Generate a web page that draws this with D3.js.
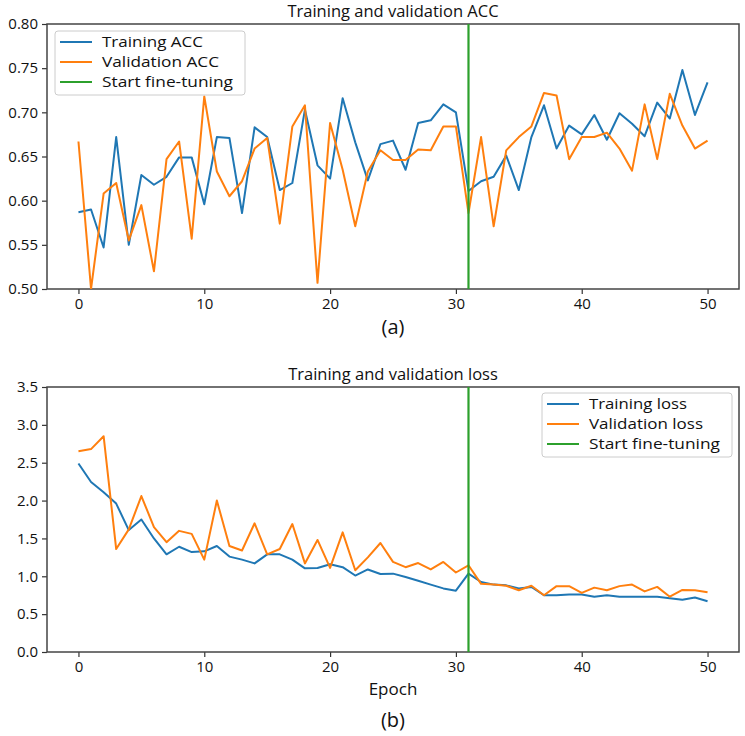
<!DOCTYPE html>
<html><head><meta charset="utf-8">
<script src="https://cdn.jsdelivr.net/npm/d3@7"></script>
<style>
body{margin:0;background:#fff;}
text{font-family:"Open Sans","DejaVu Sans",sans-serif;}
</style></head><body>
<svg id="chart" width="745" height="736"></svg>
<script>
const epochs = d3.range(0, 51);
const trainAcc = [0.587,0.590,0.547,0.672,0.550,0.629,0.618,0.627,0.649,0.649,0.596,0.672,0.671,0.586,0.683,0.672,0.612,0.620,0.703,0.640,0.625,0.716,0.666,0.623,0.664,0.668,0.635,0.688,0.691,0.709,0.700,0.611,0.622,0.627,0.651,0.612,0.672,0.708,0.659,0.685,0.675,0.697,0.669,0.699,0.687,0.673,0.711,0.693,0.748,0.697,0.734];
const valAcc = [0.667,0.500,0.608,0.620,0.555,0.595,0.520,0.647,0.667,0.557,0.718,0.633,0.605,0.622,0.659,0.671,0.574,0.684,0.708,0.507,0.688,0.635,0.571,0.633,0.657,0.646,0.646,0.658,0.657,0.684,0.684,0.586,0.672,0.571,0.657,0.672,0.684,0.722,0.719,0.647,0.672,0.672,0.677,0.659,0.634,0.709,0.647,0.721,0.685,0.659,0.668];
const trainLoss = [2.49,2.245,2.11,1.96,1.61,1.75,1.50,1.29,1.39,1.32,1.33,1.40,1.26,1.22,1.17,1.29,1.29,1.22,1.105,1.11,1.16,1.12,1.01,1.09,1.03,1.035,0.99,0.94,0.89,0.84,0.81,1.035,0.925,0.89,0.88,0.84,0.86,0.75,0.75,0.76,0.76,0.73,0.75,0.73,0.73,0.73,0.73,0.71,0.69,0.72,0.67];
const valLoss = [2.65,2.68,2.85,1.36,1.62,2.06,1.65,1.45,1.60,1.56,1.22,2.00,1.40,1.34,1.70,1.29,1.36,1.69,1.17,1.48,1.11,1.58,1.08,1.25,1.44,1.19,1.12,1.175,1.09,1.19,1.05,1.145,0.90,0.89,0.875,0.815,0.875,0.75,0.87,0.87,0.78,0.85,0.815,0.87,0.89,0.80,0.86,0.73,0.82,0.815,0.79];
const fineTuneEpoch = 31;
const xTicks = [0,10,20,30,40,50];
const accTicks = [0.50,0.55,0.60,0.65,0.70,0.75,0.80];
const lossTicks = [0.0,0.5,1.0,1.5,2.0,2.5,3.0,3.5];
const accLegend = ["Training ACC","Validation ACC","Start fine-tuning"];
const lossLegend = ["Training loss","Validation loss","Start fine-tuning"];
const colors = ["#1f77b4","#ff7f0e","#2ca02c"];

const svg = d3.select("#chart");
const L = 47, R = 739;
const x = d3.scaleLinear().domain([-2.5, 52.5]).range([L, R]);

function panel(cfg){
  const y = d3.scaleLinear().domain(cfg.yDomain).range([cfg.bottom, cfg.top]);
  const g = svg.append("g");
  g.append("text").attr("x", (L+R)/2).attr("y", cfg.top - 7).attr("text-anchor","middle")
    .attr("font-size", 16.5).attr("fill","#111").text(cfg.title);
  const xa = g.append("g").attr("transform", `translate(0,${cfg.bottom})`)
    .call(d3.axisBottom(x).tickValues(xTicks).tickFormat(d3.format("d")).tickSize(5).tickPadding(4));
  const ya = g.append("g").attr("transform", `translate(${L},0)`)
    .call(d3.axisLeft(y).tickValues(cfg.yTicks).tickFormat(cfg.fmt).tickSize(5).tickPadding(4));
  [xa, ya].forEach(a=>{
    a.select(".domain").remove();
    a.selectAll("line").attr("stroke","#333").attr("stroke-width",1.2);
    a.selectAll("text").attr("font-size",15).attr("fill","#111")
      .attr("font-family",'"Open Sans","DejaVu Sans",sans-serif');
  });
  g.append("rect").attr("x",L).attr("y",cfg.top).attr("width",R-L).attr("height",cfg.bottom-cfg.top)
    .attr("fill","none").attr("stroke","#444").attr("stroke-width",1.5);
  const clip = "clip" + cfg.id;
  svg.append("clipPath").attr("id",clip).append("rect").attr("x",L).attr("y",cfg.top).attr("width",R-L).attr("height",cfg.bottom-cfg.top);
  const plot = g.append("g").attr("clip-path",`url(#${clip})`);
  const line = d3.line().x((d,i)=>x(epochs[i])).y(d=>y(d));
  plot.append("path").datum(cfg.s1).attr("d",line).attr("fill","none").attr("stroke",colors[0]).attr("stroke-width",2).attr("stroke-linejoin","round");
  plot.append("path").datum(cfg.s2).attr("d",line).attr("fill","none").attr("stroke",colors[1]).attr("stroke-width",2).attr("stroke-linejoin","round");
  plot.append("line").attr("x1",x(fineTuneEpoch)).attr("x2",x(fineTuneEpoch)).attr("y1",cfg.top).attr("y2",cfg.bottom)
    .attr("stroke",colors[2]).attr("stroke-width",2.2);
  const lg = g.append("g").attr("transform",`translate(${cfg.legX},${cfg.legY})`);
  lg.append("rect").attr("width",cfg.legW).attr("height",64).attr("rx",3)
    .attr("fill","rgba(255,255,255,0.85)").attr("stroke","#ccc").attr("stroke-width",1);
  cfg.legend.forEach((t,i)=>{
    lg.append("line").attr("x1",5).attr("x2",37).attr("y1",11+20*i).attr("y2",11+20*i)
      .attr("stroke",colors[i]).attr("stroke-width",2);
    lg.append("text").attr("x",47).attr("y",11+20*i).attr("dy","0.35em").attr("font-size",14.5)
      .attr("textLength",cfg.legLen[i]).attr("lengthAdjust","spacingAndGlyphs")
      .attr("fill","#111").text(t);
  });
  svg.append("text").attr("x",(L+R)/2).attr("y",cfg.capY).attr("text-anchor","middle")
    .attr("font-family",'"Liberation Serif","Times New Roman",serif').attr("font-size",20).attr("fill","#111").text(cfg.caption);
}

panel({id:"a", title:"Training and validation ACC", top:24, bottom:289, yDomain:[0.5,0.8], yTicks:accTicks,
  fmt:d3.format(".2f"), s1:trainAcc, s2:valAcc, legend:accLegend, legLen:[101,117,131], legX:55, legY:31, legW:190, capY:334, caption:"(a)"});
panel({id:"b", title:"Training and validation loss", top:387, bottom:652, yDomain:[0,3.5], yTicks:lossTicks,
  fmt:d3.format(".1f"), s1:trainLoss, s2:valLoss, legend:lossLegend, legLen:[98,114,131], legX:542, legY:393, legW:190, capY:727, caption:"(b)"});
svg.append("text").attr("x",(L+R)/2).attr("y",695).attr("text-anchor","middle").attr("font-size",17).attr("fill","#111").text("Epoch");
</script></body></html>
